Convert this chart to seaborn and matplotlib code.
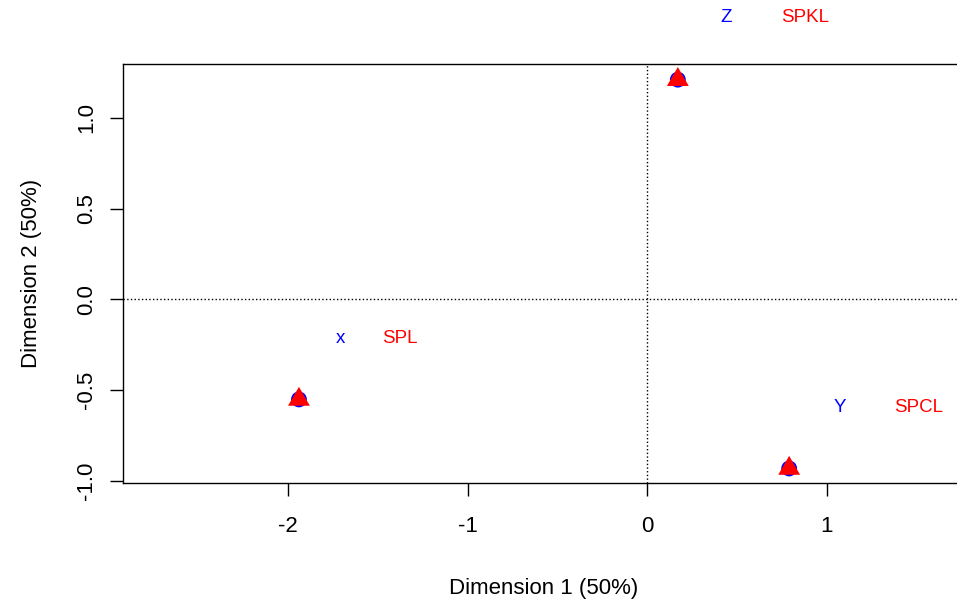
import numpy as np
import pandas as pd
import matplotlib
matplotlib.use('Agg')
import matplotlib.pyplot as plt
import seaborn as sns

# coordinates
row_names = ['x', 'Z', 'Y']
row_dim1 = [-1.94, 0.17, 0.79]
row_dim2 = [-0.55, 1.21, -0.93]

col_names = ['SPL', 'SPKL', 'SPCL']
col_dim1 = [-1.94, 0.17, 0.79]
col_dim2 = [-0.55, 1.21, -0.93]

# label positions as they appear in the picture
row_lab_x = [-1.71, 0.44, 1.07]
row_lab_y = [-0.215, 1.55, -0.595]
col_lab_x = [-1.38, 0.88, 1.51]
col_lab_y = [-0.215, 1.55, -0.595]

rows = pd.DataFrame({'dim1': row_dim1, 'dim2': row_dim2, 'name': row_names})
cols = pd.DataFrame({'dim1': col_dim1, 'dim2': col_dim2, 'name': col_names})

sns.set_style('ticks')
plt.rcParams['font.family'] = ['Liberation Sans', 'DejaVu Sans']
plt.rcParams['axes.unicode_minus'] = False
plt.rcParams['text.color'] = 'black'
plt.rcParams['axes.labelcolor'] = 'black'

fig = plt.figure(figsize=(9.57, 6), dpi=100)
ax = fig.add_axes([0.1285, 0.195, 0.88, 0.698])

ax.axhline(0, color='black', linestyle=':', linewidth=1)
ax.axvline(0, color='black', linestyle=':', linewidth=1)

# R style filled triangle, centred on its centroid
tri = [(0, 1), (-0.866, -0.5), (0.866, -0.5), (0, 1)]

sns.scatterplot(data=rows, x='dim1', y='dim2', ax=ax, color='blue',
                marker='o', s=130, edgecolor='none', zorder=3)
sns.scatterplot(data=cols, x='dim1', y='dim2', ax=ax, color='red',
                marker=tri, s=330, edgecolor='none', zorder=4)

for i in range(len(row_names)):
    ax.text(row_lab_x[i], row_lab_y[i], row_names[i], color='blue',
            fontsize=13.5, ha='center', va='center', clip_on=False)
    ax.text(col_lab_x[i], col_lab_y[i], col_names[i], color='red',
            fontsize=13.5, ha='center', va='center', clip_on=False)

ax.set_xlim(-2.92, 1.77)
ax.set_ylim(-1.01, 1.295)
ax.set_xticks([-2, -1, 0, 1])
ax.set_yticks([-1.0, -0.5, 0.0, 0.5, 1.0])
ax.set_yticklabels(['-1.0', '-0.5', '0.0', '0.5', '1.0'], rotation=90, va='center')
ax.tick_params(direction='out', length=9.4, width=1, labelsize=16,
               colors='black', labelcolor='black')
ax.tick_params(axis='x', pad=14)
ax.tick_params(axis='y', pad=9)
ax.set_xlabel('Dimension 1 (50%)', fontsize=16, labelpad=30, color='black')
ax.set_ylabel('Dimension 2 (50%)', fontsize=16, labelpad=25, color='black')
for sp in ax.spines.values():
    sp.set_visible(True)
    sp.set_color('black')
    sp.set_linewidth(1)

fig.savefig('out.png', dpi=100)
